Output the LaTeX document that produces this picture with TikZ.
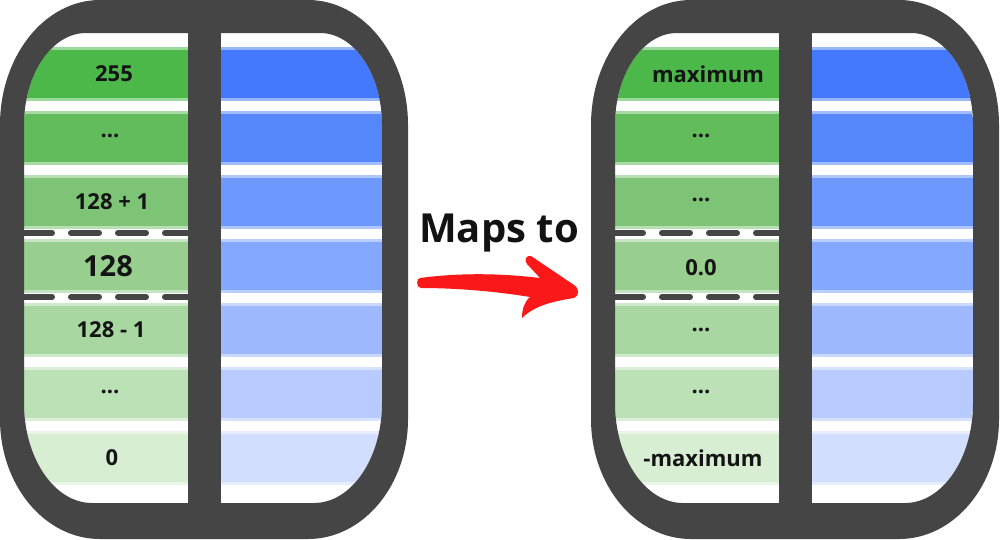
\documentclass[tikz,border=0pt]{standalone}
\usepackage{fontspec}
\setmainfont{Open Sans}
\definecolor{framegray}{HTML}{454545}
\definecolor{g1}{HTML}{4CB84A}
\definecolor{g2}{HTML}{62BC5C}
\definecolor{g3}{HTML}{7DC476}
\definecolor{g4}{HTML}{98CF8E}
\definecolor{g5}{HTML}{A8D7A2}
\definecolor{g6}{HTML}{BDE1B7}
\definecolor{g7}{HTML}{D7EED3}
\definecolor{b1}{HTML}{4479FE}
\definecolor{b2}{HTML}{5587FB}
\definecolor{b3}{HTML}{6D98FD}
\definecolor{b4}{HTML}{84A8FE}
\definecolor{b5}{HTML}{9EB9FE}
\definecolor{b6}{HTML}{B7CBFE}
\definecolor{b7}{HTML}{D2DEFE}
\definecolor{arrowred}{HTML}{FA1818}
% rounded box with elliptic corners: x0 y0 x1 y1 rxTop ryTop rxBottom ryBottom (y grows downward)
\newcommand\myrr[8]{({#1+#5},#2) -- ({#3-#5},#2) arc[start angle=-90,end angle=0,x radius=#5,y radius=#6]
 -- (#3,{#4-#8}) arc[start angle=0,end angle=90,x radius=#7,y radius=#8]
 -- ({#1+#7},#4) arc[start angle=90,end angle=180,x radius=#7,y radius=#8]
 -- (#1,{#2+#6}) arc[start angle=180,end angle=270,x radius=#5,y radius=#6] -- cycle}
\begin{document}
\begin{tikzpicture}[x=1pt,y=-1pt,
  lbl/.style={font=\fontsize{22}{22}\selectfont\bfseries, text=black!92, inner sep=0pt},
  biglbl/.style={font=\fontsize{29}{29}\selectfont\bfseries, text=black!92, inner sep=0pt},
  divline/.style={draw=framegray, line width=6pt, line cap=round, dash pattern=on 28pt off 19pt},
  frame/.style={fill=framegray, even odd rule}]
\useasboundingbox (0,0) rectangle (1000,539);
\fill[white] (0,0) rectangle (1000,539);

\foreach \dx in {0,591}{
\begin{scope}[xshift=\dx pt]
  \begin{scope}
    \clip \myrr{24}{33}{382}{503}{62}{92}{68}{100};
    \foreach \i in {1,...,7}{
      \pgfmathsetmacro{\t}{47+64*(\i-1)}
      \pgfmathsetmacro{\bt}{\t+54}
      \fill[g\i] (24,\t) rectangle (188,\bt);
      \fill[b\i] (221,\t) rectangle (382,\bt);
      \fill[g\i!55!white] (24,\t) rectangle (188,\t+3);
      \fill[g\i!55!white] (24,\bt-3) rectangle (188,\bt);
      \fill[b\i!55!white] (221,\t) rectangle (382,\t+3);
      \fill[b\i!55!white] (221,\bt-3) rectangle (382,\bt);
    }
  \end{scope}
  \draw[divline] (24,233) -- (188,233);
  \draw[divline] (24,297) -- (188,297);
  \fill[frame] \myrr{0}{0}{408}{539}{100}{125}{100}{120}
               \myrr{24}{33}{382}{503}{62}{92}{68}{100};
  \fill[framegray] (188,20) rectangle (221,520);
\end{scope}
}

\node[lbl]    (l1) at (114,74)  {255};
\node[lbl]    (l2) at (110,136) {...};
\node[lbl]    (l3) at (112,202) {128 + 1};
\node[biglbl] (l4) at (108,266) {128};
\node[lbl]    (l5) at (111,330) {128 - 1};
\node[lbl]    (l6) at (110,392) {...};
\node[lbl]    (l7) at (112,458) {0};

\node[lbl] (r1) at (708,74)  {maximum};
\node[lbl] (r2) at (701,136) {...};
\node[lbl] (r3) at (701,200) {...};
\node[lbl] (r4) at (701,268) {0.0};
\node[lbl] (r5) at (701,330) {...};
\node[lbl] (r6) at (701,392) {...};
\node[lbl] (r7) at (703,458) {-maximum};

\node[font=\fontsize{40}{40}\selectfont\bfseries, text=black!93, inner sep=0pt, anchor=base] (maps) at (499,242) {Maps to};

\fill[arrowred] (420,278) .. controls (450,274) and (490,272) .. (540,278)
  -- (527,264) .. controls (524,260) and (526,255) .. (531,256)
  -- (574,285) .. controls (580,289) and (579,296) .. (574,298)
  .. controls (555,301) and (535,305) .. (522,318)
  .. controls (522,310) and (524,302) .. (530,297)
  .. controls (500,292) and (460,288) .. (421,288)
  .. controls (416,288) and (416,278) .. (420,278) -- cycle;
\end{tikzpicture}
\end{document}
